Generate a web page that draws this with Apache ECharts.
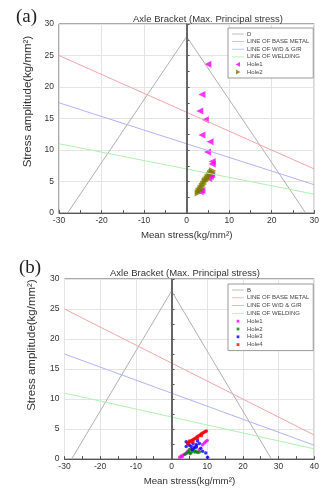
<!DOCTYPE html>
<html><head><meta charset="utf-8">
<script src="https://cdn.jsdelivr.net/npm/echarts@6/dist/echarts.min.js"></script>
<style>html,body{margin:0;padding:0;background:#fff;}#a{position:absolute;left:0;top:0;width:322px;height:245px;}#b{position:absolute;left:0;top:245px;width:322px;height:246px;}</style>
</head><body>
<div id="a"></div><div id="b"></div>
<script>
// ---- data ----
const titleText = 'Axle Bracket (Max. Principal stress)';
const xTicksA = [-30, 30, 10];
const xTicksB = [-30, 40, 10];
const yTicks = [0, 30, 5];
const lineD = [[-28, 0], [0, 28], [28, 0]];
const baseMetalA = [[-30, 25], [30, 7]];
const wdgrA = [[-30, 17.5], [30, 4.5]];
const weldingA = [[-30, 11], [30, 3]];
const baseMetalB = [[-30, 25], [40, 4]];
const wdgrB = [[-30, 17.5], [40, 2.3]];
const weldingB = [[-30, 11], [40, 1.7]];
const holeA1 = [[5.0,23.6],[3.6,18.8],[3.1,16.2],[4.4,14.8],[3.6,12.4],[5.5,11.3],[4.9,9.7],[6.0,8.2],[6.0,7.8],[5.9,6.1],[5.6,5.8],[5.2,5.5],[3.6,3.6],[3.2,3.4]];
const holeA2 = [[6.1,6.7],[5.9,6.5],[5.6,6.3],[5.3,6.0],[5.0,5.7],[4.8,5.4],[4.5,5.2],[4.3,5.0],[4.0,4.6],[3.7,4.3],[3.4,4.0],[3.2,3.7],[2.9,3.5],[2.7,3.2]];
const holeB1 = [[2.3,0.3],[2.7,0.5],[3.0,0.4],[3.3,0.7],[4.0,0.9],[4.5,1.3],[5.5,1.7],[6.3,2.0],[7.0,2.3],[7.8,1.6],[8.7,2.4],[9.2,2.7],[9.6,2.9],[10.0,3.1]];
const holeB2 = [[3.7,0.8],[4.3,1.0],[4.8,1.2],[5.0,1.6],[5.2,0.9],[5.5,1.1],[6.0,1.4],[6.2,1.7],[6.5,1.2],[6.9,1.3],[7.3,1.1],[7.8,1.2]];
const holeB3 = [[4.1,2.9],[4.6,2.6],[4.1,2.1],[5.0,2.3],[5.5,2.1],[5.8,1.6],[6.0,2.6],[6.5,1.9],[6.9,2.4],[7.0,2.0],[7.3,3.0],[7.8,2.6],[8.2,1.8],[8.7,1.3],[9.6,1.0],[10.1,0.3]];
const holeB4 = [[4.5,2.6],[4.8,2.8],[5.0,3.0],[5.3,2.9],[5.6,3.1],[5.9,3.2],[6.2,3.3],[6.5,3.4],[6.8,3.5],[7.1,3.7],[7.4,3.8],[7.7,3.9],[8.0,4.0],[8.3,4.2],[8.6,4.3],[8.9,4.4],[9.2,4.5],[9.5,4.6],[9.8,4.7],[6.0,2.9],[7.3,3.4],[8.4,3.9]];

const FONT = 'Liberation Sans, Arial, sans-serif';
const ICON_LINE = 'path://M0,0L0,0M0,2.6L12,2.6L12,3.4L0,3.4ZM12,6L12,6';
const ICON_LEFT = 'path://M0,0L0,0M3.5,3L8,0.6L8,5.4ZM12,6L12,6';
const ICON_RIGHT = 'path://M0,0L0,0M8.5,3L4,0.6L4,5.4ZM12,6L12,6';
const ICON_DOT = 'path://M0,0L0,0M4.6,1.6L7.4,1.6L7.4,4.4L4.6,4.4ZM12,6L12,6';
function axes(xt, nameGapX, nameGapY, yShift) {
  return {
    xAxis: {type: 'value', min: xt[0], max: xt[1], interval: xt[2],
      name: 'Mean stress(kg/mm²)', nameLocation: 'middle', nameGap: nameGapX,
      nameTextStyle: {fontSize: 9.7, color: '#333', fontFamily: FONT},
      axisLine: {show: true, onZero: false, lineStyle: {color: '#555'}},
      axisTick: {show: true, inside: true, length: 3, lineStyle: {color: '#555'}},
      minorTick: {show: true, splitNumber: 2, length: 3, lineStyle: {color: '#555'}},
      axisLabel: {fontSize: 8.5, color: '#333', margin: 3, fontFamily: FONT},
      splitLine: {show: true, lineStyle: {color: '#e4e4e4'}}},
    yAxis: {type: 'value', min: yTicks[0], max: yTicks[1], interval: yTicks[2],
      name: 'Stress amplitude(kg/mm²)', nameLocation: 'middle', nameGap: nameGapY, nameRotate: 90,
      nameTextStyle: {fontSize: 11.5, color: '#333', fontFamily: FONT, padding: [0, 0, 0, yShift]},
      axisLine: {show: true, lineStyle: {color: '#555'}},
      axisTick: {show: true, inside: true, length: 3, lineStyle: {color: '#555'}},
      minorTick: {show: true, splitNumber: 2, length: 3, lineStyle: {color: '#555'}},
      axisLabel: {fontSize: 8.5, color: '#333', margin: 5, fontFamily: FONT},
      splitLine: {show: true, lineStyle: {color: '#e4e4e4'}}}
  };
}
function lineSeries(name, data, color, extra) {
  return Object.assign({type: 'line', name: name, data: data, symbol: 'none',
    lineStyle: {color: color, width: 1}, itemStyle: {color: color}, silent: true, animation: false}, extra || {});
}
const zeroMark = {markLine: {silent: true, symbol: 'none', label: {show: false},
  lineStyle: {color: '#666', width: 2, type: 'solid'}, data: [{xAxis: 0}]}};
function legendItem(name, icon) { return {name: name, icon: icon}; }

const chartA = echarts.init(document.getElementById('a'));
chartA.setOption(Object.assign({
  animation: false,
  title: [{text: titleText, left: 203, top: 9, textAlign: 'center',
      textStyle: {fontSize: 9.5, fontWeight: 'normal', color: '#333', fontFamily: FONT}},
    {text: '(a)', left: 11, top: 3, textStyle: {fontSize: 19, fontWeight: 'normal', color: '#222', fontFamily: 'Liberation Serif, serif'}}],
  grid: {left: 59, right: 4, top: 24, height: 191, show: true, borderColor: '#555', borderWidth: 1},
  legend: {orient: 'vertical', left: 228, top: 28, padding: [3, 4, 3, 4], itemGap: 1.6, itemWidth: 12, itemHeight: 6,
    backgroundColor: '#fff', borderColor: '#999', borderWidth: 1, width: 86,
    textStyle: {fontSize: 6, color: '#444', fontFamily: FONT, padding: [0, 0, 0, -2]},
    data: [legendItem('D', ICON_LINE), legendItem('LINE OF BASE METAL', ICON_LINE), legendItem('LINE OF W/D & G/R', ICON_LINE),
      legendItem('LINE OF WELDING', ICON_LINE), legendItem('Hole1', ICON_LEFT), legendItem('Hole2', ICON_RIGHT)]},
  series: [
    lineSeries('D', lineD, '#b0b0b0', zeroMark),
    lineSeries('LINE OF BASE METAL', baseMetalA, '#f4a6a6'),
    lineSeries('LINE OF W/D & G/R', wdgrA, '#b0b4f2'),
    lineSeries('LINE OF WELDING', weldingA, '#b0f0b0'),
    {type: 'scatter', name: 'Hole1', data: holeA1, symbol: 'triangle', symbolRotate: 90, symbolSize: 7, itemStyle: {color: '#ff00ff'}},
    {type: 'scatter', name: 'Hole2', data: holeA2, symbol: 'triangle', symbolRotate: -90, symbolSize: 7, itemStyle: {color: '#7a7a00'}}
  ]
}, axes(xTicksA, 10, 21, 34)));

const chartB = echarts.init(document.getElementById('b'));
chartB.setOption(Object.assign({
  animation: false,
  title: [{text: titleText, left: 180, top: 18, textAlign: 'center',
      textStyle: {fontSize: 9.5, fontWeight: 'normal', color: '#333', fontFamily: FONT}},
    {text: '(b)', left: 14, top: 9, textStyle: {fontSize: 19, fontWeight: 'normal', color: '#222', fontFamily: 'Liberation Serif, serif'}}],
  grid: {left: 64.5, right: 1, top: 34, height: 189, show: true, borderColor: '#555', borderWidth: 1},
  legend: {orient: 'vertical', left: 228, top: 39, padding: [3, 4, 3, 4], itemGap: 1.8, itemWidth: 12, itemHeight: 6,
    backgroundColor: '#fff', borderColor: '#999', borderWidth: 1, width: 90,
    textStyle: {fontSize: 6, color: '#444', fontFamily: FONT, padding: [0, 0, 0, -2]},
    data: [legendItem('B', ICON_LINE), legendItem('LINE OF BASE METAL', ICON_LINE), legendItem('LINE OF W/D & G/R', ICON_LINE),
      legendItem('LINE OF WELDING', ICON_LINE), legendItem('Hole1', ICON_DOT), legendItem('Hole2', ICON_DOT),
      legendItem('Hole3', ICON_DOT), legendItem('Hole4', ICON_DOT)]},
  series: [
    lineSeries('B', lineD, '#b0b0b0', zeroMark),
    lineSeries('LINE OF BASE METAL', baseMetalB, '#f4a6a6'),
    lineSeries('LINE OF W/D & G/R', wdgrB, '#b0b4f2'),
    lineSeries('LINE OF WELDING', weldingB, '#b0f0b0'),
    {type: 'scatter', name: 'Hole1', data: holeB1, symbol: 'circle', symbolSize: 3.5, itemStyle: {color: '#ff00ff'}},
    {type: 'scatter', name: 'Hole2', data: holeB2, symbol: 'circle', symbolSize: 3.5, itemStyle: {color: '#008000'}},
    {type: 'scatter', name: 'Hole3', data: holeB3, symbol: 'circle', symbolSize: 3.5, itemStyle: {color: '#0000ff'}},
    {type: 'scatter', name: 'Hole4', data: holeB4, symbol: 'circle', symbolSize: 3.5, itemStyle: {color: '#ff0000'}}
  ]
}, axes(xTicksB, 10, 27, 48)));
</script>
</body></html>
